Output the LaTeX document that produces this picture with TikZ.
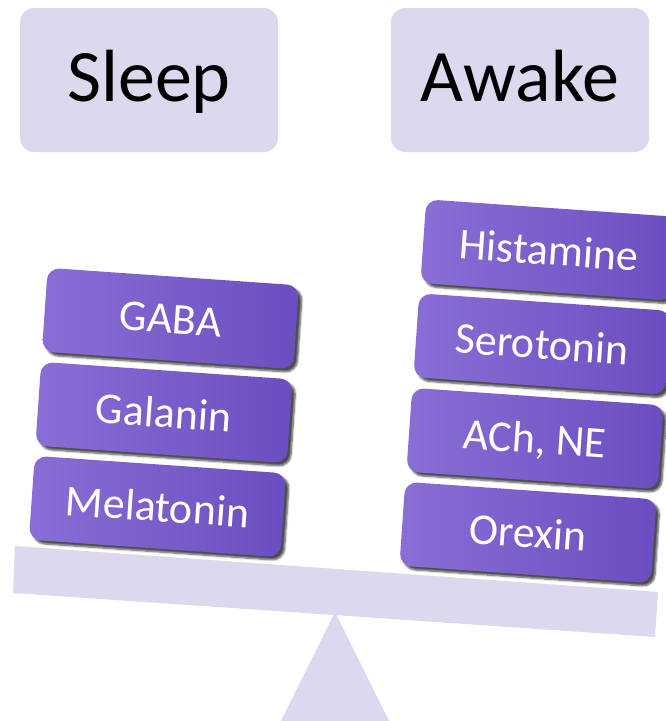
\documentclass[tikz,border=0pt]{standalone}
\usepackage{fontspec}
\setmainfont{Carlito}
\usetikzlibrary{shadows.blur}
\definecolor{lav}{HTML}{DDD8EE}
\definecolor{pleft}{HTML}{8A6ED5}
\definecolor{pmid}{HTML}{7957D5}
\definecolor{pright}{HTML}{6C4DC0}
\begin{document}
\begin{tikzpicture}[x=1pt,y=-1pt,
  topbox/.style={fill=lav, rounded corners=14pt, minimum width=258pt, minimum height=144pt,
    inner sep=0pt, text height=52pt, text depth=10pt, font=\fontsize{74}{80}\selectfont},
  chem/.style={rounded corners=12pt, minimum width=252pt, minimum height=84pt,
    left color=pleft, middle color=pmid, right color=pright, rotate=-4, text=white,
    inner sep=0pt, text height=31pt, text depth=1pt, font=\fontsize{44}{48}\selectfont,
    blur shadow={shadow xshift=3.5pt, shadow yshift=-3.5pt, shadow opacity=70, shadow blur steps=6}},
  support/.style={fill=lav}
  ]
\useasboundingbox (0,0) rectangle (665,721);
% top labels
\node[topbox] (sleep) at (149,80) {Sleep};
\node[topbox] (awake) at (520,80) {Awake};
% fulcrum and beam
\fill[support] (335,612) -- (389,721) -- (281,721) -- cycle;
\fill[support] (15,546) -- (658,592) -- (655,637) -- (13,593) -- cycle;
% sleep side
\node[chem] (gaba) at (170.5,318.5) {GABA};
\node[chem] (galanin) at (164,412.5) {Galanin};
\node[chem] (melatonin) at (157.5,506.5) {Melatonin};
% awake side
\node[chem] (histamine) at (549,250) {Histamine};
\node[chem] (serotonin) at (542,344) {Serotonin};
\node[chem] (achne) at (535,438.5) {ACh, NE};
\node[chem] (orexin) at (528,532.5) {Orexin};
\end{tikzpicture}
\end{document}
